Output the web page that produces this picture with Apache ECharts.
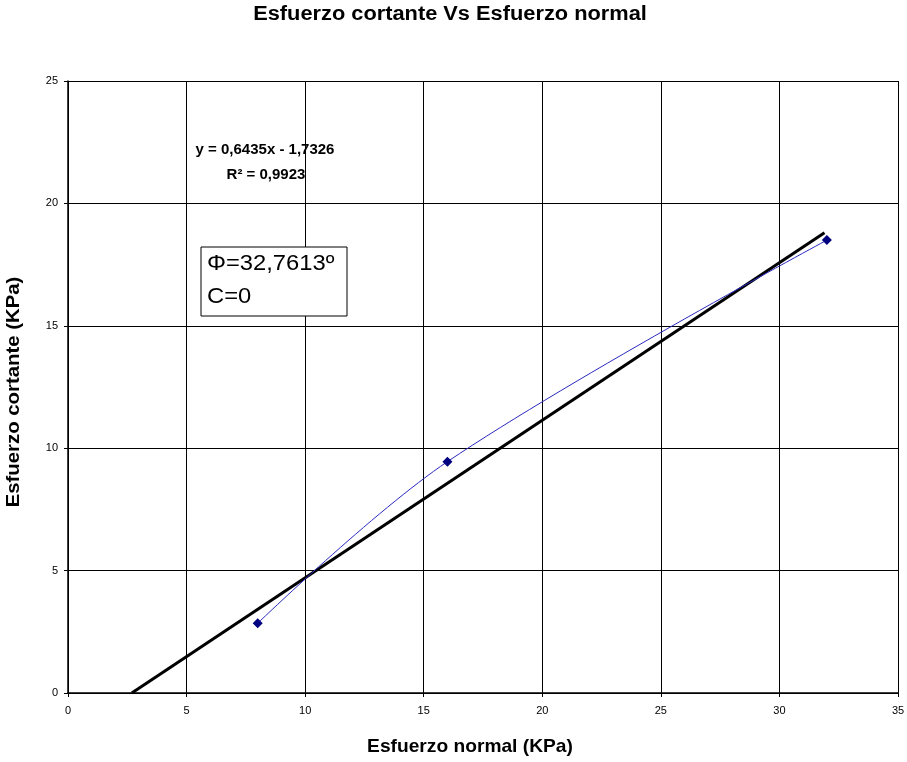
<!DOCTYPE html>
<html><head><meta charset="utf-8">
<script src="https://cdn.jsdelivr.net/npm/echarts@6/dist/echarts.min.js"></script>
<style>html,body{margin:0;padding:0;background:#fff}#c{width:907px;height:762px}</style>
</head><body><div id="c"></div>
<script>
const title = 'Esfuerzo cortante Vs Esfuerzo normal';
const xName = 'Esfuerzo normal (KPa)';
const yName = 'Esfuerzo cortante (KPa)';
const normalStress = [8, 16, 32];
const shearStress = [2.85, 9.45, 18.5];
const trendX = [2.69, 31.9];
const trendY = [0, 18.8];
const eqLine1 = 'y = 0,6435x - 1,7326';
const eqLine2 = 'R² = 0,9923';
const boxLine1 = 'Φ=32,7613º';
const boxLine2 = 'C=0';

const chart = echarts.init(document.getElementById('c'));
const fam = '"Liberation Sans", Arial, sans-serif';
chart.setOption({
  animation: false,
  backgroundColor: '#fff',
  grid: {left: 68, right: 9, top: 81, bottom: 69, outerBoundsMode: 'none', containLabel: false},
  xAxis: {type: 'value', min: 0, max: 35, interval: 5,
    axisLine: {onZero: false, lineStyle: {color: '#000', width: 1.5}},
    axisTick: {show: true, inside: false, length: 4, lineStyle: {color: '#000'}},
    axisLabel: {fontFamily: fam, fontSize: 11, color: '#000', margin: 12},
    splitLine: {show: true, lineStyle: {color: '#000', width: 1}}},
  yAxis: {type: 'value', min: 0, max: 25, interval: 5,
    axisLine: {show: true, onZero: false, lineStyle: {color: '#000', width: 1.5}},
    axisTick: {show: true, inside: false, length: 4, lineStyle: {color: '#000'}},
    axisLabel: {fontFamily: fam, fontSize: 11, color: '#000', margin: 10},
    splitLine: {show: true, lineStyle: {color: '#000', width: 1}}},
  series: [
    {type: 'line', name: 'trend', data: trendX.map((x, i) => [x, trendY[i]]),
      showSymbol: false, symbol: 'none', lineStyle: {color: '#000', width: 3}, z: 3},
    {type: 'line', name: 'data', data: normalStress.map((x, i) => [x, shearStress[i]]),
      smooth: 0.35, symbol: 'diamond', symbolSize: 10,
      itemStyle: {color: '#000080'}, lineStyle: {color: '#2a2ac0', width: 1}, z: 4}
  ],
  graphic: [
    {type: 'text', x: 450, y: 14, scaleX: 1.09, style: {text: title, textAlign: 'center', textVerticalAlign: 'middle',
      font: 'bold 20px ' + fam, fill: '#000'}},
    {type: 'text', x: 470, y: 747, scaleX: 1.01, style: {text: xName, textAlign: 'center', textVerticalAlign: 'middle',
      font: 'bold 19px ' + fam, fill: '#000'}},
    {type: 'text', x: 14, y: 392, rotation: Math.PI / 2, scaleX: 1.13, style: {text: yName, textAlign: 'center', textVerticalAlign: 'middle',
      font: 'bold 18px ' + fam, fill: '#000'}},
    {type: 'text', x: 265, y: 150, style: {text: eqLine1, textAlign: 'center', textVerticalAlign: 'middle',
      font: 'bold 15px ' + fam, fill: '#000'}},
    {type: 'text', x: 266, y: 175, style: {text: eqLine2, textAlign: 'center', textVerticalAlign: 'middle',
      font: 'bold 15px ' + fam, fill: '#000'}},
    {type: 'rect', x: 201, y: 247, shape: {width: 146, height: 69},
      style: {fill: '#fff', stroke: '#000', lineWidth: 1}, z: 10},
    {type: 'text', x: 207, y: 264, scaleX: 1.08, z: 11, style: {text: boxLine1, textVerticalAlign: 'middle',
      font: '22px ' + fam, fill: '#000'}},
    {type: 'text', x: 207, y: 297, scaleX: 1.08, z: 11, style: {text: boxLine2, textVerticalAlign: 'middle',
      font: '22px ' + fam, fill: '#000'}}
  ]
});
</script></body></html>
